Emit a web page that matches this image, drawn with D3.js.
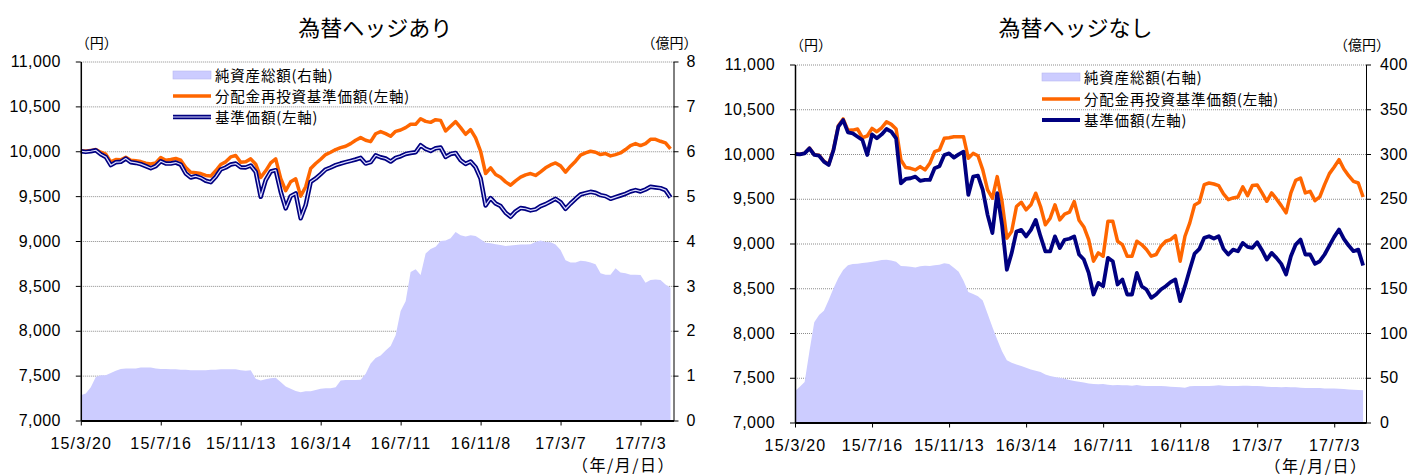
<!DOCTYPE html>
<html>
<head>
<meta charset="utf-8">
<style>
  body { margin: 0; background: #fff; }
  svg text { font-family: "Noto Sans CJK JP", "Noto Sans", sans-serif; }
  svg .tick text { font-family: "Liberation Sans", Arial, sans-serif; }
  .grid line { stroke: #8c8c8c; stroke-dasharray: 1,1; }
  .grid path { display: none; }
</style>
<script src="https://cdnjs.cloudflare.com/ajax/libs/d3/7.8.5/d3.min.js"></script>
</head>
<body>
<script>
// x axis: trading days from 15/3/20, one sample every 5 trading days (weekly)
var tickLabels = ["15/3/20", "15/7/16", "15/11/13", "16/3/14", "16/7/11", "16/11/8", "17/3/7", "17/7/3"];
var tickEvery = 80;
var step = 5;
var totalDays = 593;

var leftTicks = [7000, 7500, 8000, 8500, 9000, 9500, 10000, 10500, 11000];
var hedgedRightTicks = [0, 1, 2, 3, 4, 5, 6, 7, 8];
var unhedgedRightTicks = [0, 50, 100, 150, 200, 250, 300, 350, 400];

var legendNames = ["純資産総額(右軸)", "分配金再投資基準価額(左軸)", "基準価額(左軸)"];

// 為替ヘッジあり
var hedgedReinvest = [10004,10004,10007,10019,9989,9967,9882,9908,9904,9933,
  9900,9893,9885,9867,9859,9870,9930,9900,9908,9919,
  9900,9819,9767,9760,9752,9730,9723,9782,9852,9882,
  9937,9952,9878,9882,9915,9856,9708,9782,9870,9915,
  9697,9560,9660,9693,9500,9604,9808,9863,9911,9963,
  9989,10019,10041,10056,10085,10122,10152,10122,10107,10195,
  10219,10196,10167,10222,10237,10263,10300,10300,10363,10333,
  10322,10352,10344,10226,10278,10330,10263,10189,10241,10148,
  10000,9752,9815,9741,9711,9659,9622,9670,9711,9737,
  9752,9730,9770,9815,9848,9870,9837,9767,9833,9889,
  9956,9981,10000,9989,9963,9974,9948,9963,9981,10019,
  10063,10085,10063,10085,10133,10133,10111,10093,10026];
var hedgedNav = [10000,9993,10000,10011,9967,9937,9845,9878,9882,9919,
  9878,9870,9856,9834,9811,9834,9889,9863,9863,9874,
  9852,9752,9708,9722,9704,9671,9656,9715,9797,9819,
  9852,9863,9822,9819,9841,9771,9493,9678,9774,9789,
  9549,9364,9500,9530,9253,9401,9660,9697,9745,9797,
  9819,9845,9863,9878,9893,9908,9926,9863,9878,9955,
  9933,9919,9885,9926,9944,9970,9981,9989,10067,10026,
  10004,10033,10041,9937,9970,9981,9900,9859,9885,9822,
  9696,9396,9478,9418,9389,9315,9270,9330,9367,9359,
  9341,9352,9389,9411,9441,9470,9433,9359,9418,9470,
  9518,9533,9548,9537,9511,9500,9470,9489,9507,9526,
  9552,9567,9552,9574,9604,9596,9589,9567,9485];
var hedgedAssets = [0.56,0.60,0.74,0.97,1.01,1.01,1.06,1.11,1.15,1.16,
  1.16,1.16,1.18,1.18,1.18,1.16,1.15,1.15,1.14,1.14,
  1.13,1.13,1.12,1.12,1.12,1.12,1.13,1.13,1.14,1.14,
  1.14,1.14,1.12,1.11,1.12,0.93,0.89,0.92,0.94,0.95,
  0.86,0.76,0.71,0.66,0.63,0.65,0.65,0.68,0.71,0.72,
  0.72,0.74,0.89,0.90,0.90,0.90,0.91,1.04,1.27,1.39,
  1.45,1.56,1.66,1.90,2.44,2.66,3.31,3.37,3.24,3.72,
  3.82,3.87,4.00,4.01,4.06,4.20,4.13,4.10,4.13,4.11,
  4.04,3.96,3.95,3.93,3.91,3.89,3.90,3.91,3.92,3.92,
  3.93,3.98,4.01,3.98,3.97,3.92,3.80,3.57,3.52,3.52,
  3.56,3.55,3.52,3.48,3.28,3.25,3.25,3.39,3.30,3.28,
  3.25,3.25,3.24,3.07,3.13,3.14,3.13,3.03,2.96];

// 為替ヘッジなし
var unhedgedReinvest = [10000,9998,10010,10066,9993,9986,9920,9884,10053,10315,
  10392,10264,10267,10279,10182,10201,10286,10249,10293,10360,
  10331,10279,9933,9848,9840,9822,9859,9822,9896,10026,
  10045,10175,10182,10193,10193,10193,9952,10007,9981,9822,
  9599,9506,9747,9469,9060,9134,9413,9461,9376,9432,
  9562,9413,9209,9283,9432,9264,9328,9350,9469,9260,
  9185,9044,8802,8895,8858,9249,9249,9025,8988,8858,
  8858,9025,8988,8932,8858,8877,8970,9025,9044,9089,
  8802,9081,9230,9431,9461,9658,9676,9665,9647,9554,
  9490,9509,9520,9632,9535,9647,9654,9565,9472,9565,
  9498,9423,9342,9565,9706,9732,9565,9583,9479,9520,
  9658,9781,9855,9937,9833,9758,9695,9676,9520];
var unhedgedNav = [10000,9996,10007,10063,9989,9981,9915,9877,10045,10305,
  10379,10241,10230,10193,10156,9989,10219,10175,10219,10279,
  10249,10175,9673,9721,9729,9747,9699,9710,9710,9840,
  9863,9989,10007,9959,9996,10026,9543,9747,9759,9599,
  9320,9116,9562,9209,8707,8893,9134,9153,9079,9153,
  9264,9079,8912,8912,9079,8949,9042,9053,9079,8877,
  8821,8672,8430,8560,8523,8839,8802,8542,8598,8430,
  8430,8672,8523,8486,8393,8430,8486,8523,8568,8598,
  8356,8523,8709,8888,8940,9063,9081,9055,9081,8940,
  8877,8932,8914,9007,8962,8951,9014,8925,8821,8895,
  8839,8772,8653,8858,8988,9044,8877,8877,8772,8802,
  8877,8977,9074,9156,9051,8977,8914,8932,8754];
var unhedgedAssets = [35.2,40.0,45.2,79.6,111.9,120.0,124.8,137.0,150.0,161.5,
  170.4,175.6,177.0,177.4,178.2,178.9,179.6,180.4,181.5,181.9,
  181.1,179.6,174.8,174.5,174.1,173.3,174.5,175.2,174.8,175.6,
  176.3,177.8,177.0,173.0,168.5,158.5,145.9,143.7,141.1,136.3,
  121.5,106.7,92.6,79.6,69.6,66.7,64.8,63.0,61.1,59.3,
  57.8,56.3,53.7,51.9,50.7,50.0,48.9,47.4,46.3,45.6,
  44.8,43.7,43.0,42.6,43.0,42.2,41.5,41.9,41.5,41.5,
  41.1,41.9,41.1,40.7,40.7,40.7,40.7,40.4,40.0,39.6,
  39.3,38.9,40.4,40.7,40.7,40.7,40.7,41.1,41.5,41.1,
  40.7,40.7,40.7,41.1,41.1,40.7,40.7,40.4,40.0,39.6,
  39.6,39.3,39.6,39.3,39.3,38.9,38.5,38.5,38.5,38.5,
  38.1,38.1,38.1,37.8,37.4,37.0,36.7,36.3,35.9];

var ORANGE = "#ff6600", NAVY = "#000080", AREA = "#ccccff";

var svg = d3.select("body").append("svg")
  .attr("width", 1408)
  .attr("height", 476);

function drawChart(c) {
  var x = d3.scaleLinear().domain([0, totalDays]).range([c.left, c.right]);
  var y = d3.scaleLinear().domain([7000, 11000]).range([c.bottom, c.top]);
  var y2 = d3.scaleLinear().domain([0, c.rightTicks[c.rightTicks.length - 1]]).range([c.bottom, c.top]);
  var g = svg.append("g");
  var w = c.right - c.left;

  // gridlines
  g.append("g").attr("class", "grid")
    .attr("transform", "translate(" + c.left + ",0)")
    .call(d3.axisLeft(y).tickValues(leftTicks).tickSize(-w).tickFormat(""));

  // net assets area
  var area = d3.area()
    .x(function(d, i) { return x(i * step); })
    .y0(y2(0))
    .y1(function(d) { return y2(d); });
  g.append("path").datum(c.assets)
    .attr("d", area)
    .attr("fill", AREA);

  var line = d3.line()
    .x(function(d, i) { return x(i * step); })
    .y(function(d) { return y(d); });
  g.append("path").datum(c.reinvest)
    .attr("d", line).attr("fill", "none")
    .attr("stroke", ORANGE).attr("stroke-width", 3.5).attr("stroke-linejoin", "round");
  g.append("path").datum(c.nav)
    .attr("d", line).attr("fill", "none")
    .attr("stroke", NAVY).attr("stroke-width", c.doubleNav ? 4.5 : 3.8).attr("stroke-linejoin", "round");
  if (c.doubleNav) {
    g.append("path").datum(c.nav)
      .attr("d", line).attr("fill", "none")
      .attr("stroke", "#dcdcff").attr("stroke-width", 1.2).attr("stroke-linejoin", "round");
  }

  // axes
  var ax = g.append("g")
    .attr("transform", "translate(" + c.left + ",0)")
    .call(d3.axisLeft(y).tickValues(leftTicks).tickSize(5).tickSizeOuter(0).tickPadding(15)
      .tickFormat(d3.format(",")));
  ax.select(".domain").attr("stroke-width", 1.5);

  var ar = g.append("g")
    .attr("transform", "translate(" + c.right + ",0)")
    .call(d3.axisRight(y2).tickValues(c.rightTicks).tickSize(5).tickSizeOuter(0).tickPadding(c.rightPad));

  var tickDays = tickLabels.map(function(d, i) { return i * tickEvery; });
  var ab = g.append("g")
    .attr("transform", "translate(0," + c.bottom + ")")
    .call(d3.axisBottom(x).tickValues(tickDays).tickSize(5).tickSizeOuter(0).tickPadding(12)
      .tickFormat(function(d, i) { return tickLabels[i]; }));
  ab.select(".domain").attr("stroke-width", 2);

  ax.selectAll(".tick text").style("font-size", "16px").style("letter-spacing", "0.4px");
  ar.selectAll(".tick text").style("font-size", "16px").style("letter-spacing", "0.4px");
  ab.selectAll(".tick text").style("font-size", "16px").style("letter-spacing", "1.2px");

  // titles and units
  g.append("text").attr("x", (c.left + c.right) / 2 + c.titleDx).attr("y", 36)
    .attr("text-anchor", "middle").style("font-size", "22px").text(c.title);
  g.append("text").attr("x", c.left + 16).attr("y", c.unitY)
    .attr("text-anchor", "middle").style("font-size", "14px").text("（円）");
  g.append("text").attr("x", c.right - 4).attr("y", c.unitY)
    .attr("text-anchor", "middle").style("font-size", "14px").text("（億円）");
  g.append("text").attr("x", c.right - 50).attr("y", c.dateY)
    .attr("text-anchor", "middle").style("font-size", "16px").style("letter-spacing", "1.5px")
    .text("（年/月/日）");

  // legend
  var lg = g.append("g");
  lg.append("rect").attr("x", c.legX).attr("y", c.legY[0] - 4).attr("width", 38).attr("height", 8)
    .attr("fill", AREA).attr("stroke", "#b8b8f0").attr("stroke-width", 0.6);
  lg.append("line").attr("x1", c.legX).attr("x2", c.legX + 38)
    .attr("y1", c.legY[1]).attr("y2", c.legY[1])
    .attr("stroke", ORANGE).attr("stroke-width", 3.5);
  lg.append("line").attr("x1", c.legX).attr("x2", c.legX + 38)
    .attr("y1", c.legY[2]).attr("y2", c.legY[2])
    .attr("stroke", NAVY).attr("stroke-width", c.doubleNav ? 4.5 : 3.8);
  if (c.doubleNav) {
    lg.append("line").attr("x1", c.legX).attr("x2", c.legX + 38)
      .attr("y1", c.legY[2]).attr("y2", c.legY[2])
      .attr("stroke", "#dcdcff").attr("stroke-width", 1.2);
  }
  lg.selectAll("text.leg").data(legendNames).enter().append("text")
    .attr("class", "leg")
    .attr("x", c.legX + 42)
    .attr("y", function(d, i) { return c.legY[i] + 5.5; })
    .style("font-size", "14.5px")
    .style("letter-spacing", "0.8px")
    .text(function(d) { return d; });
}

drawChart({
  title: "為替ヘッジあり", titleDx: -2,
  left: 80.8, right: 673.5, top: 61.5, bottom: 420.5,
  reinvest: hedgedReinvest, nav: hedgedNav, assets: hedgedAssets,
  rightTicks: hedgedRightTicks, rightPad: 8, doubleNav: true,
  unitY: 47.5, dateY: 471, legX: 173, legY: [75, 96, 117]
});

drawChart({
  title: "為替ヘッジなし", titleDx: -5,
  left: 795, right: 1366, top: 64.5, bottom: 422.5,
  reinvest: unhedgedReinvest, nav: unhedgedNav, assets: unhedgedAssets,
  rightTicks: unhedgedRightTicks, rightPad: 9, doubleNav: false,
  unitY: 49.5, dateY: 471.5, legX: 1042, legY: [77, 99, 120]
});
</script>
</body>
</html>
